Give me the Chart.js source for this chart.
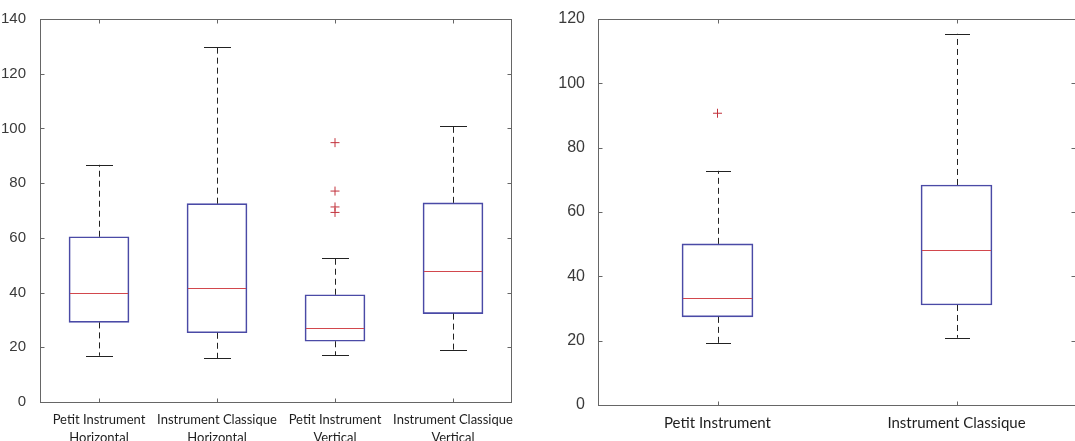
<!DOCTYPE html>
<html>
<head>
<meta charset="utf-8">
<script src="https://cdn.jsdelivr.net/npm/chart.js@4"></script>
<style>
  html, body { margin: 0; padding: 0; background: #fff; overflow: hidden; }
  #wrap { position: relative; width: 1075px; height: 441px; }
  #left { position: absolute; left: 0; top: 0; }
  #right { position: absolute; left: 540px; top: 0; }
</style>
</head>
<body>
<div id="wrap">
  <canvas id="left" width="540" height="441"></canvas>
  <canvas id="right" width="545" height="441"></canvas>
</div>
<script>
// left panel : horizontal / vertical
const leftCategories = [
  ["Petit Instrument", "Horizontal"],
  ["Instrument Classique", "Horizontal"],
  ["Petit Instrument", "Vertical"],
  ["Instrument Classique", "Vertical"]
];
const leftLow = [16.9, 16.0, 17.1, 19.0];
const leftQ1 = [29.1, 25.3, 22.2, 32.3];
const leftMedian = [39.8, 41.7, 27.2, 47.8];
const leftQ3 = [60.4, 72.5, 39.2, 72.8];
const leftHigh = [86.7, 129.9, 52.5, 100.8];
const leftOutliers = [[], [], [94.8, 77.1, 71.3, 69.3], []];
const leftTicks = [0, 20, 40, 60, 80, 100, 120, 140];

// right panel : both positions
const rightCategories = ["Petit Instrument", "Instrument Classique"];
const rightLow = [19.2, 20.9];
const rightQ1 = [27.4, 31.1];
const rightMedian = [33.4, 48.1];
const rightQ3 = [50.1, 68.4];
const rightHigh = [72.8, 115.4];
const rightOutliers = [[90.7], []];
const rightTicks = [0, 20, 40, 60, 80, 100, 120];

const BOX_COLOR = "#4a4aa6";
const MEDIAN_COLOR = "#d2474d";
const OUTLIER_COLOR = "#c2323c";
const WHISKER_COLOR = "#222";
const FRAME_COLOR = "#666";

// whiskers, caps and medians, positioned from the bar elements and the y scale
const whiskerPlugin = {
  id: "whiskers",
  afterDatasetsDraw(chart, args, opts) {
    const ctx = chart.ctx;
    const y = chart.scales.y;
    const boxes = chart.getDatasetMeta(0).data;
    ctx.save();
    boxes.forEach((bar, i) => {
      const x = Math.round(bar.x) + 0.5;
      const yLow = y.getPixelForValue(opts.low[i]);
      const yQ1 = y.getPixelForValue(opts.q1[i]);
      const yQ3 = y.getPixelForValue(opts.q3[i]);
      const yHigh = y.getPixelForValue(opts.high[i]);
      const yMed = Math.round(y.getPixelForValue(opts.median[i])) + 0.5;

      ctx.strokeStyle = WHISKER_COLOR;
      ctx.lineWidth = 1;
      ctx.setLineDash([6, 4]);
      ctx.beginPath();
      ctx.moveTo(x, yQ3);
      ctx.lineTo(x, yHigh);
      ctx.moveTo(x, yQ1);
      ctx.lineTo(x, yLow);
      ctx.stroke();

      ctx.setLineDash([]);
      const cap = opts.capWidth / 2;
      ctx.beginPath();
      ctx.moveTo(x - cap, Math.round(yHigh) + 0.5);
      ctx.lineTo(x + cap, Math.round(yHigh) + 0.5);
      ctx.moveTo(x - cap, Math.round(yLow) + 0.5);
      ctx.lineTo(x + cap, Math.round(yLow) + 0.5);
      ctx.stroke();

      ctx.strokeStyle = MEDIAN_COLOR;
      ctx.beginPath();
      ctx.moveTo(bar.x - bar.width / 2 + 1, yMed);
      ctx.lineTo(bar.x + bar.width / 2 - 1, yMed);
      ctx.stroke();
    });
    ctx.restore();
  }
};

// matlab-like box round the plot with inward ticks on every side
const framePlugin = {
  id: "frame",
  afterDraw(chart) {
    const { ctx, chartArea: a, scales } = chart;
    const len = 4;
    ctx.save();
    ctx.strokeStyle = FRAME_COLOR;
    ctx.lineWidth = 1;
    const l = Math.round(a.left) + 0.5, r = Math.round(a.right) - 0.5;
    const t = Math.round(a.top) + 0.5, b = Math.round(a.bottom) + 0.5;
    ctx.strokeRect(l, t, r - l, b - t);
    ctx.beginPath();
    scales.y.ticks.forEach((tk, i) => {
      const py = Math.round(scales.y.getPixelForTick(i)) + 0.5;
      ctx.moveTo(l, py); ctx.lineTo(l + len, py);
      ctx.moveTo(r, py); ctx.lineTo(r - len, py);
    });
    scales.x.ticks.forEach((tk, i) => {
      const px = Math.round(scales.x.getPixelForTick(i)) + 0.5;
      ctx.moveTo(px, b); ctx.lineTo(px, b - len);
      ctx.moveTo(px, t); ctx.lineTo(px, t + len);
    });
    ctx.stroke();
    ctx.restore();
  }
};

function outlierSets(outliers) {
  const n = Math.max(...outliers.map(o => o.length));
  const sets = [];
  for (let k = 0; k < n; k++) {
    sets.push({
      type: "line",
      data: outliers.map(o => (o[k] === undefined ? null : o[k])),
      showLine: false,
      pointStyle: "cross",
      pointRadius: 4.5,
      pointBorderWidth: 1,
      pointBorderColor: OUTLIER_COLOR,
      pointBackgroundColor: OUTLIER_COLOR,
      borderColor: OUTLIER_COLOR
    });
  }
  return sets;
}

function makeBoxChart(id, s) {
  return new Chart(document.getElementById(id), {
    type: "bar",
    data: {
      labels: s.categories,
      datasets: [{
        data: s.q1.map((v, i) => [v, s.q3[i]]),
        backgroundColor: "rgba(0,0,0,0)",
        borderColor: BOX_COLOR,
        borderWidth: 1,
        borderSkipped: false,
        barThickness: s.boxWidth
      }].concat(outlierSets(s.outliers))
    },
    options: {
      responsive: false,
      animation: false,
      devicePixelRatio: 1,
      layout: { padding: s.padding },
      plugins: {
        legend: { display: false },
        tooltip: { enabled: false },
        whiskers: {
          low: s.low, q1: s.q1, median: s.median, q3: s.q3, high: s.high,
          capWidth: s.capWidth
        }
      },
      scales: {
        x: {
          type: "category",
          offset: true,
          grid: { display: false },
          border: { display: false },
          ticks: {
            color: "#1e1e1e",
            font: { family: "Lato", size: s.labelSize, lineHeight: 1.35 },
            padding: s.labelPad,
            maxRotation: 0,
            autoSkip: false
          },
          afterFit: sc => { sc.height = s.xHeight; }
        },
        y: {
          min: 0,
          max: s.ticks[s.ticks.length - 1],
          afterBuildTicks: sc => { sc.ticks = s.ticks.map(v => ({ value: v })); },
          grid: { display: false },
          border: { display: false },
          ticks: {
            color: "#3a3a3a",
            font: { family: "Liberation Sans", size: s.tickSize },
            padding: s.tickPad
          },
          afterFit: sc => { sc.width = s.yWidth; }
        }
      }
    },
    plugins: [whiskerPlugin, framePlugin]
  });
}

makeBoxChart("left", {
  categories: leftCategories,
  low: leftLow, q1: leftQ1, median: leftMedian, q3: leftQ3, high: leftHigh,
  outliers: leftOutliers, ticks: leftTicks,
  boxWidth: 60, capWidth: 27,
  padding: { left: 0, right: 28, top: 19, bottom: 0 },
  yWidth: 40, xHeight: 39, tickSize: 15, tickPad: 6,
  labelSize: 13, labelPad: 1
});

makeBoxChart("right", {
  categories: rightCategories,
  low: rightLow, q1: rightQ1, median: rightMedian, q3: rightQ3, high: rightHigh,
  outliers: rightOutliers, ticks: rightTicks,
  boxWidth: 71, capWidth: 25,
  padding: { left: 0, right: 9, top: 19, bottom: 0 },
  yWidth: 58, xHeight: 36, tickSize: 16, tickPad: 5,
  labelSize: 15, labelPad: 0
});
</script>
</body>
</html>
